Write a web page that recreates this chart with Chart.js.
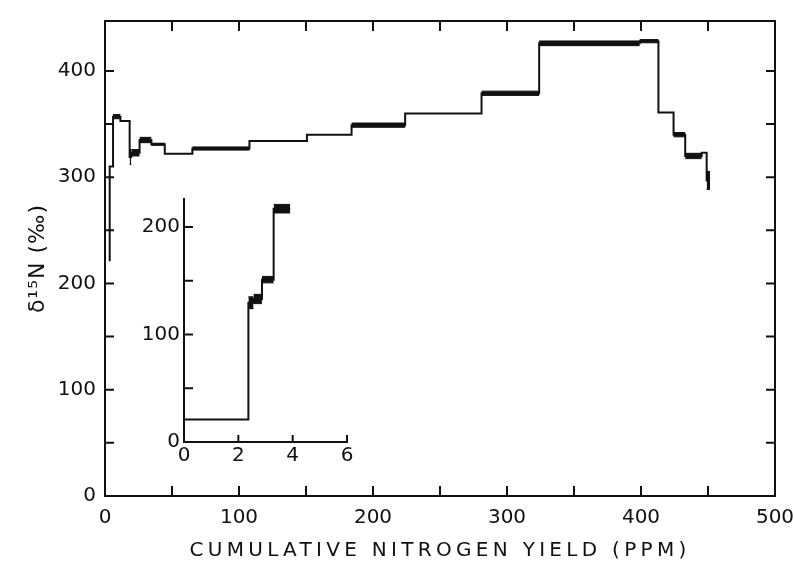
<!DOCTYPE html>
<html>
<head>
<meta charset="utf-8">
<script src="https://cdn.jsdelivr.net/npm/chart.js@4.4.1/dist/chart.umd.min.js"></script>
<style>
  body { margin: 0; background: #fff; }
  #wrap { position: relative; width: 794px; height: 564px; }
  #main { position: absolute; left: 0; top: 0; }
  #inset { position: absolute; left: 120px; top: 180px; }
</style>
</head>
<body>
<div id="wrap">
  <canvas id="main" width="794" height="564"></canvas>
  <canvas id="inset" width="250" height="300"></canvas>
</div>
<script>
// main plot: step boundaries (ppm), delta value per step, half height of the black box
const mainEdges = [3.5, 6, 11.5, 18.4, 19.6, 25.8, 34.6, 44.6, 65.2, 107.8, 150.7, 184, 224, 281, 324, 399, 413, 424.3, 433, 445.3, 449, 451.5];
const mainDelta = [310, 357, 353, 319, 323, 335, 331, 322, 327, 334, 340, 349, 360, 379, 426, 428, 361, 340, 320, 323, 297];
const mainErr = [0, 2, 0, 7, 3, 2.5, 1, 0, 1.5, 0, 0, 2, 0, 2, 2.2, 1.5, 0, 2, 2.5, 0, 8.5];
const mainFirst = 221;

// inset: first few ppm
const insetEdges = [0, 2.37, 2.56, 2.87, 3.3, 3.91];
const insetDelta = [21, 129.5, 133, 151, 217];
const insetErr = [0, 5.5, 4.3, 3, 4];

const xTicksMain = [0, 100, 200, 300, 400, 500];
const yTicksMain = [0, 100, 200, 300, 400];
const xTicksInset = [0, 2, 4, 6];
const yTicksInset = [0, 100, 200];

const FONT = 'DejaVu Sans';
const INK = '#111';

function stepLine(edges, vals, first) {
    const pts = [];
    if (first !== undefined) pts.push({ x: edges[0], y: first });
    vals.forEach((v, i) => pts.push({ x: edges[i], y: v }));
    pts.push({ x: edges[edges.length - 1], y: vals[vals.length - 1] });
    return pts;
}

function band(edges, vals, errs, sign) {
    const pts = [];
    vals.forEach((v, i) => {
        if (!errs[i]) return;
        pts.push({ x: edges[i], y: v + sign * errs[i] });
        pts.push({ x: edges[i + 1], y: v + sign * errs[i] });
        pts.push({ x: edges[i + 1], y: null });
    });
    return pts;
}

function datasets(edges, vals, errs, first) {
    return [
        {
            data: stepLine(edges, vals, first),
            stepped: true,
            borderColor: INK,
            borderWidth: 2,
            pointRadius: 0
        },
        {
            data: band(edges, vals, errs, 1),
            borderColor: INK,
            borderWidth: 1,
            pointRadius: 0,
            spanGaps: false
        },
        {
            data: band(edges, vals, errs, -1),
            borderColor: INK,
            borderWidth: 1,
            backgroundColor: INK,
            fill: '-1',
            pointRadius: 0,
            spanGaps: false
        }
    ];
}

// inward tick marks (and optional full frame)
const tickMarks = {
    id: 'tickMarks',
    afterDraw(chart, args, opts) {
        const { ctx, chartArea: a, scales } = chart;
        ctx.save();
        ctx.strokeStyle = INK;
        ctx.lineWidth = 2;
        ctx.beginPath();
        if (opts.box) ctx.rect(a.left, a.top, a.right - a.left, a.bottom - a.top);
        scales.x.ticks.forEach(t => {
            const px = scales.x.getPixelForValue(t.value);
            ctx.moveTo(px, a.bottom);
            ctx.lineTo(px, a.bottom - opts.xLen);
            if (opts.box) {
                ctx.moveTo(px, a.top);
                ctx.lineTo(px, a.top + opts.xLen);
            }
        });
        scales.y.ticks.forEach(t => {
            const py = scales.y.getPixelForValue(t.value);
            ctx.moveTo(a.left, py);
            ctx.lineTo(a.left + opts.yLen, py);
            if (opts.box) {
                ctx.moveTo(a.right, py);
                ctx.lineTo(a.right - opts.yLen, py);
            }
        });
        ctx.stroke();
        ctx.restore();
    }
};

// axis titles are letter-spaced in the original
const spacedTitles = {
    id: 'spacedTitles',
    beforeDraw(chart, args, opts) {
        Object.entries(chart.scales).forEach(([id, s]) => {
            if (s._spaced || !s.options.title.display) return;
            const orig = s.drawTitle.bind(s);
            const gap = opts[id] || 0;
            s.drawTitle = function () {
                this.ctx.save();
                this.ctx.letterSpacing = gap + 'px';
                orig();
                this.ctx.restore();
            };
            s._spaced = true;
        });
    }
};

function only() {
    return function (scale) {
        scale.ticks = scale.ticks.filter(t => t.value % 50 === 0);
    };
}

function labelIf(list) {
    return function (value) {
        return list.includes(value) ? String(value) : '';
    };
}

new Chart(document.getElementById('main'), {
    type: 'line',
    data: { datasets: datasets(mainEdges, mainDelta, mainErr, mainFirst) },
    plugins: [tickMarks, spacedTitles],
    options: {
        responsive: false,
        animation: false,
        layout: { padding: { top: 14, right: 19, left: 0, bottom: 0 } },
        plugins: {
            legend: { display: false },
            tooltip: { enabled: false },
            tickMarks: { box: true, xLen: 10, yLen: 9 },
            spacedTitles: { x: 4.3, y: 1 }
        },
        scales: {
            x: {
                type: 'linear',
                min: 0,
                max: 500,
                afterFit: s => { s.height = 68; s.paddingLeft = 0; s.paddingRight = 0; },
                grid: { display: false, drawTicks: false },
                border: { display: false },
                ticks: {
                    stepSize: 50,
                    autoSkip: false,
                    maxRotation: 0,
                    padding: 10,
                    color: INK,
                    font: { family: FONT, size: 20 },
                    callback: labelIf(xTicksMain)
                },
                title: {
                    display: true,
                    text: 'CUMULATIVE NITROGEN YIELD (PPM)',
                    color: INK,
                    font: { family: FONT, size: 20 },
                    padding: { top: 0, bottom: 1 }
                }
            },
            y: {
                type: 'linear',
                min: 0,
                max: 447,
                afterFit: s => { s.width = 105; },
                afterBuildTicks: only(),
                grid: { display: false, drawTicks: false },
                border: { display: false },
                ticks: {
                    stepSize: 50,
                    autoSkip: false,
                    padding: 9,
                    color: INK,
                    font: { family: FONT, size: 20 },
                    callback: labelIf(yTicksMain)
                },
                title: {
                    display: true,
                    text: 'δ¹⁵N (‰)',
                    color: INK,
                    font: { family: FONT, size: 22 },
                    padding: { top: 25, bottom: 0 }
                }
            }
        }
    }
});

new Chart(document.getElementById('inset'), {
    type: 'line',
    data: { datasets: datasets(insetEdges, insetDelta, insetErr) },
    plugins: [tickMarks],
    options: {
        responsive: false,
        animation: false,
        layout: { padding: { top: 19, right: 23, left: 0, bottom: 0 } },
        plugins: {
            legend: { display: false },
            tooltip: { enabled: false },
            tickMarks: { box: false, xLen: 7, yLen: 9 }
        },
        scales: {
            x: {
                type: 'linear',
                min: 0,
                max: 6,
                afterFit: s => { s.height = 38; s.paddingLeft = 0; s.paddingRight = 0; },
                grid: { display: false, drawTicks: false },
                border: { display: true, color: INK, width: 2 },
                ticks: {
                    stepSize: 2,
                    autoSkip: false,
                    maxRotation: 0,
                    padding: 2,
                    color: INK,
                    font: { family: FONT, size: 20 },
                    callback: labelIf(xTicksInset)
                }
            },
            y: {
                type: 'linear',
                min: 0,
                max: 226,
                afterFit: s => { s.width = 64; },
                afterBuildTicks: only(),
                grid: { display: false, drawTicks: false },
                border: { display: true, color: INK, width: 2 },
                ticks: {
                    stepSize: 50,
                    autoSkip: false,
                    padding: 4,
                    color: INK,
                    font: { family: FONT, size: 20 },
                    callback: labelIf(yTicksInset)
                }
            }
        }
    }
});
</script>
</body>
</html>
